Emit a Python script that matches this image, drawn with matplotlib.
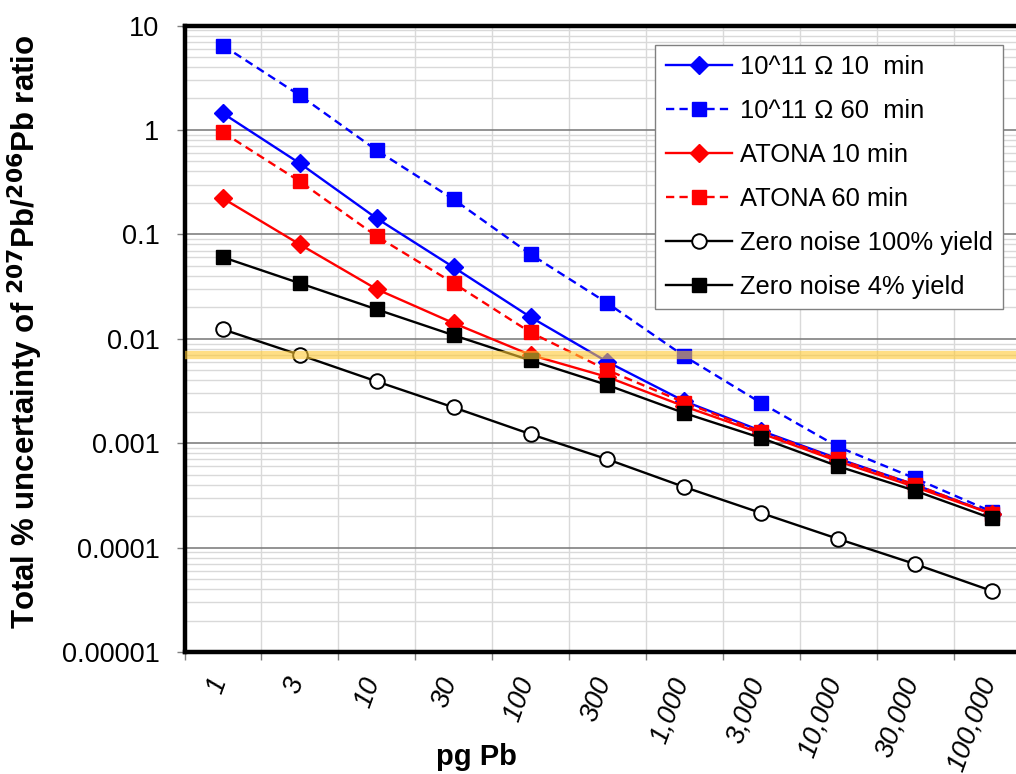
import matplotlib
matplotlib.use("Agg")
from matplotlib import pyplot as plt
from matplotlib import ticker, transforms
import numpy as np

plt.rcParams['font.family'] = ['Liberation Sans', 'DejaVu Sans']

# categories on the x axis (pg Pb)
x_labels = ['1', '3', '10', '30', '100', '300', '1,000', '3,000',
            '10,000', '30,000', '100,000']

# total % uncertainty
ohm_10min = [1.44, 0.478, 0.142, 0.0483, 0.0161, 0.0060, 0.00252, 0.00131,
             0.00071, 0.00040, 0.00021]
ohm_60min = [6.43, 2.14, 0.637, 0.216, 0.0644, 0.0219, 0.0068, 0.00242,
             0.00092, 0.00046, 0.00022]
atona_10min = [0.221, 0.080, 0.0298, 0.0141, 0.0070, 0.0043, 0.00225, 0.00124,
               0.00067, 0.00038, 0.00021]
atona_60min = [0.946, 0.321, 0.0957, 0.034, 0.0115, 0.0050, 0.00245, 0.00128,
               0.00070, 0.00040, 0.00021]
zero_100 = [0.0123, 0.0070, 0.0039, 0.0022, 0.00122, 0.00070, 0.00038,
            0.000214, 0.000121, 0.0000695, 0.0000384]
zero_4 = [0.0603, 0.034, 0.0191, 0.0108, 0.0062, 0.0036, 0.00194, 0.00112,
          0.00060, 0.00035, 0.00019]
target_level = 0.007  # highlighted threshold

W, H = 1016, 774
fig = plt.figure(figsize=(W / 100, H / 100), dpi=100)
left, right, top, bottom = 184.5, 1030.5, 25.5, 652
ax = fig.add_axes([left / W, 1 - bottom / H, (right - left) / W, (bottom - top) / H])

x = np.arange(len(x_labels))

ax.plot(x, ohm_10min, color='#0000FF', lw=1.7, marker='D', ms=9,
        label='10^11 \u03a9 10  min')
ax.plot(x, ohm_60min, color='#0000FF', lw=1.7, ls=(0, (3.5, 2.2)), marker='s',
        ms=10.5, label='10^11 \u03a9 60  min')
ax.plot(x, atona_10min, color='#FF0000', lw=1.7, marker='D', ms=9,
        label='ATONA 10 min')
ax.plot(x, atona_60min, color='#FF0000', lw=1.7, ls=(0, (3.5, 2.2)), marker='s',
        ms=10.5, label='ATONA 60 min')
ax.plot(x, zero_100, color='black', lw=1.7, marker='o', ms=10.5,
        mfc='white', mec='black', mew=1.4, label='Zero noise 100% yield')
ax.plot(x, zero_4, color='black', lw=1.7, marker='s', ms=10.5,
        label='Zero noise 4% yield')

ax.axhline(target_level, color='#FFC933', alpha=0.6, lw=6, zorder=5)

ax.set_yscale('log')
ax.set_ylim(1e-5, 10)
ax.set_xlim(-0.5, len(x_labels) - 0.5)

# y axis: decades labelled, minor grid
ax.yaxis.set_minor_locator(ticker.LogLocator(base=10, subs=np.arange(2, 10), numticks=20))
ax.yaxis.set_minor_formatter(ticker.NullFormatter())
ax.set_yticks([1e-5, 1e-4, 1e-3, 1e-2, 1e-1, 1, 10])
ax.set_yticklabels(['0.00001', '0.0001', '0.001', '0.01', '0.1', '1', '10'])
ax.tick_params(axis='y', which='major', direction='out', length=6, width=1,
               color='#808080', pad=12, labelsize=19.5)
ax.tick_params(axis='y', which='minor', length=0)

# x axis: ticks at category boundaries, labels drawn separately
ax.set_xticks(np.arange(-0.5, len(x_labels), 1.0))
ax.set_xticklabels([])
ax.tick_params(axis='x', which='major', direction='out', length=6, width=1,
               color='#808080')

ax.grid(True, axis='y', which='major', color='#808080', lw=1.2, zorder=0)
ax.grid(True, axis='y', which='minor', color='#D9D9D9', lw=1.0, zorder=0)
ax.grid(True, axis='x', which='major', color='#D9D9D9', lw=1.0, zorder=0)
ax.set_axisbelow(True)

offset = transforms.ScaledTranslation(9 / 100, -22 / 100, fig.dpi_scale_trans)
for i, lab in enumerate(x_labels):
    ax.text(i, 0, lab, transform=ax.get_xaxis_transform() + offset,
            rotation=70, ha='right', va='top', fontsize=19.5, style='italic')

for side in ['left', 'top', 'bottom']:
    ax.spines[side].set_linewidth(3.2)
    ax.spines[side].set_color('black')
ax.spines['right'].set_visible(False)

leg = ax.legend(loc='upper right', bbox_to_anchor=(1003 / W, 1 - 45 / H),
                bbox_transform=fig.transFigure, fontsize=18.4, frameon=True,
                fancybox=False, edgecolor='#808080', framealpha=1,
                handlelength=2.6, handletextpad=0.3, labelspacing=0.78,
                borderpad=0.4, borderaxespad=0)
leg.get_frame().set_linewidth(1.0)
leg.set_zorder(10)

fig.text(25 / W, 1 - 332 / H,
         'Total % uncertainty of $^{\\mathbf{207}}$Pb/$^{\\mathbf{206}}$Pb ratio',
         rotation=90, ha='center', va='center', fontsize=22.5, fontweight='bold')
fig.text(476 / W, 1 - 757 / H, 'pg Pb', ha='center', va='center',
         fontsize=21, fontweight='bold')

fig.savefig('out.png', dpi=100)
